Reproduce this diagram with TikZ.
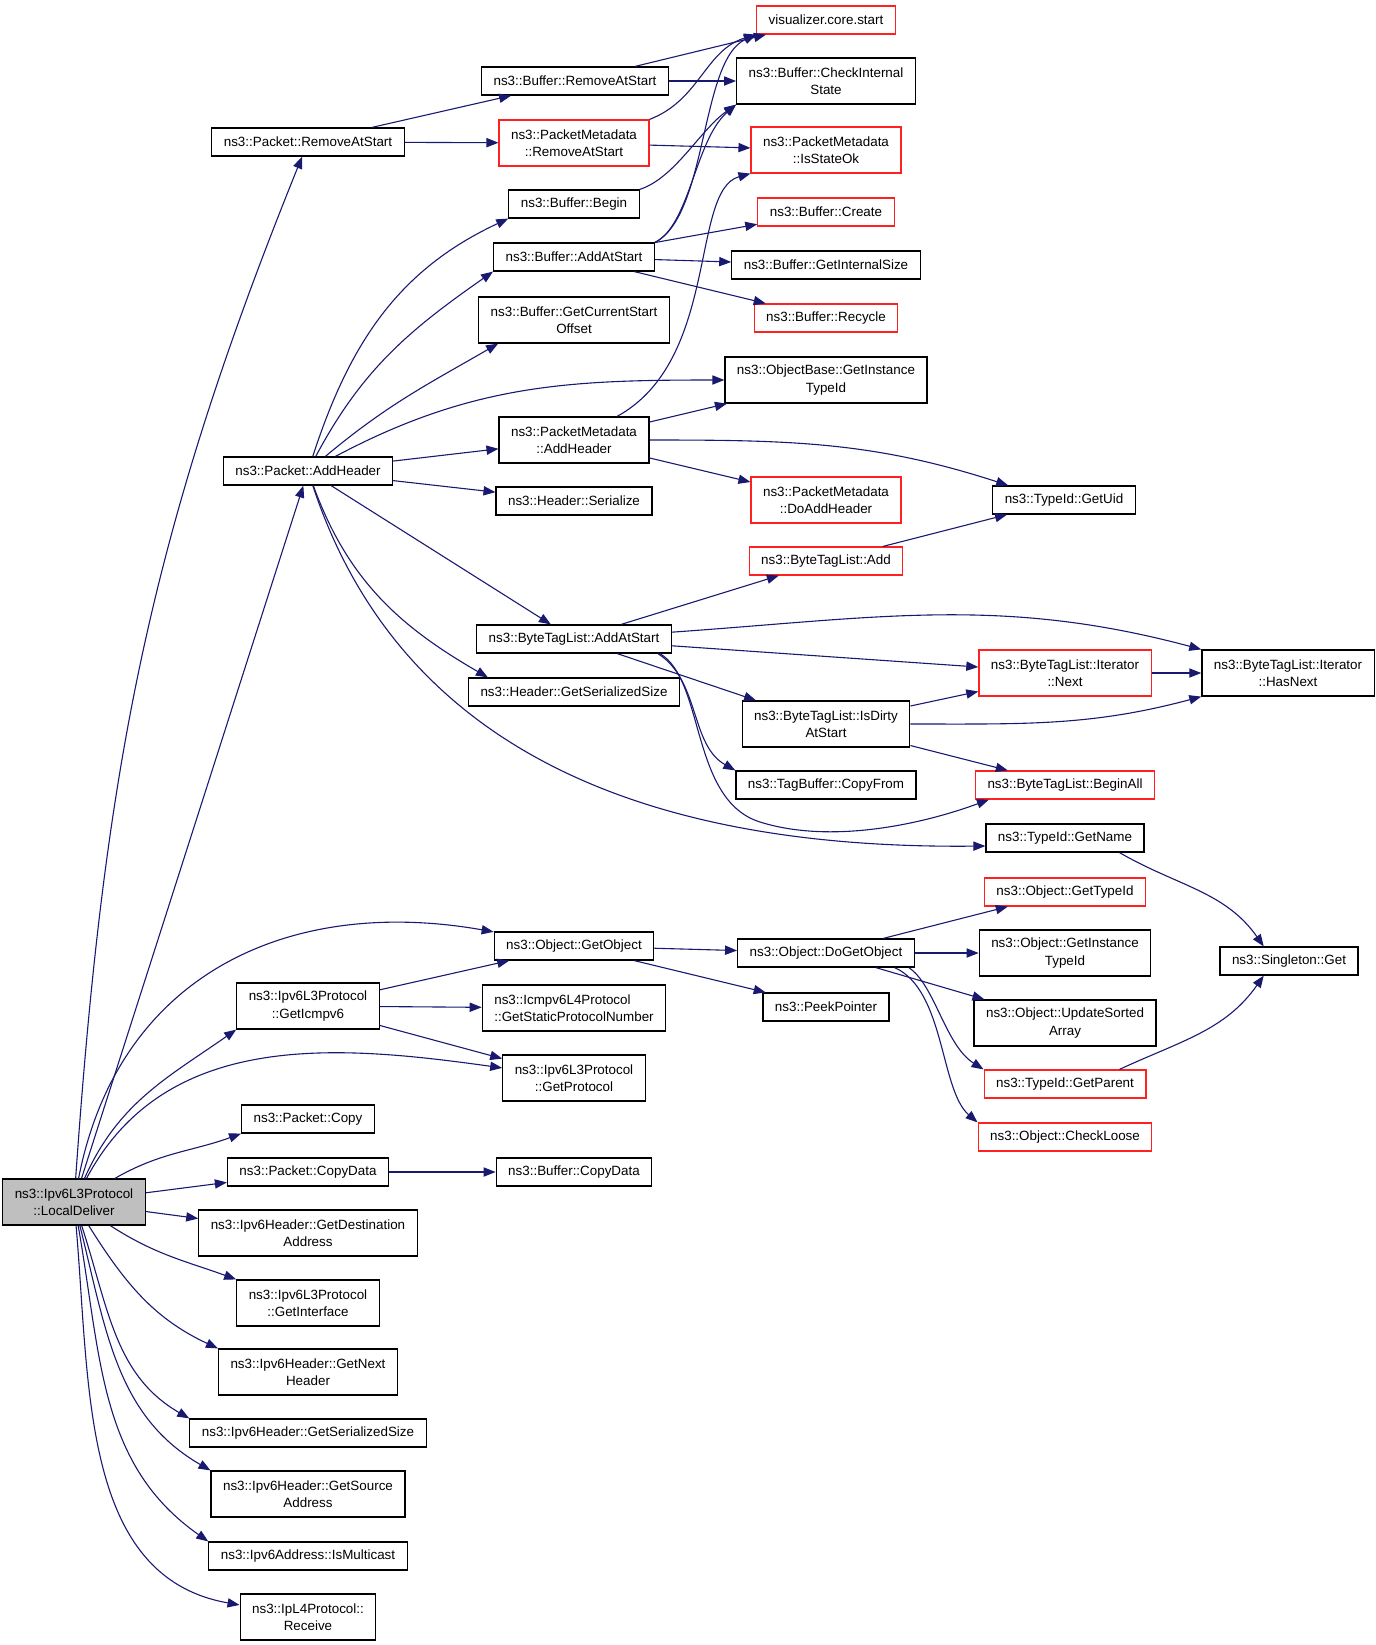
\documentclass[tikz,border=0pt]{standalone}
\usepackage{fontspec}
\setmainfont{Liberation Sans}
\usetikzlibrary{arrows.meta}

\definecolor{edgeblue}{HTML}{191970}
\definecolor{nodered}{HTML}{FF2020}
\definecolor{rootgray}{HTML}{BFBFBF}

\tikzset{
  fn/.style={draw=black, line width=0.6pt, fill=white, inner xsep=6pt, inner ysep=1pt,
    minimum height=14pt, align=center, font=\fontsize{6.7}{8.6}\selectfont},
  two/.style={minimum height=23pt},
  fnred/.style={fn, draw=nodered},
  fnroot/.style={fn, two, fill=rootgray},
  call/.style={edgeblue, line width=0.55pt, -{Triangle[length=6pt,width=4.6pt]}}
}

\begin{document}
\begin{tikzpicture}[x=0.5pt,y=0.5pt]
  \useasboundingbox (0,0) rectangle (1376,-1645);

  % caller
  \node[fnroot] (ld) at (74,-1202) {ns3::Ipv6L3Protocol\\::LocalDeliver};

  % first level
  \node[fn] (prm) at (308,-142) {ns3::Packet::RemoveAtStart};
  \node[fn] (pah) at (308,-471) {ns3::Packet::AddHeader};
  \node[fn,two] (gic) at (308,-1006) {ns3::Ipv6L3Protocol\\::GetIcmpv6};
  \node[fn] (pcp) at (308,-1119) {ns3::Packet::Copy};
  \node[fn] (pcd) at (308,-1172) {ns3::Packet::CopyData};
  \node[fn,two] (gda) at (308,-1233) {ns3::Ipv6Header::GetDestination\\Address};
  \node[fn,two] (gif) at (308,-1303) {ns3::Ipv6L3Protocol\\::GetInterface};
  \node[fn,two] (gnh) at (308,-1372) {ns3::Ipv6Header::GetNext\\Header};
  \node[fn] (gss) at (308,-1433) {ns3::Ipv6Header::GetSerializedSize};
  \node[fn,two] (gsa) at (308,-1494) {ns3::Ipv6Header::GetSource\\Address};
  \node[fn] (ism) at (308,-1556) {ns3::Ipv6Address::IsMulticast};
  \node[fn,two] (rcv) at (308,-1617) {ns3::IpL4Protocol::\\Receive};

  % second level
  \node[fn] (brm) at (575,-81) {ns3::Buffer::RemoveAtStart};
  \node[fnred,two] (pmrm) at (574,-143) {ns3::PacketMetadata\\::RemoveAtStart};
  \node[fn] (bbg) at (574,-204) {ns3::Buffer::Begin};
  \node[fn] (baas) at (574,-257) {ns3::Buffer::AddAtStart};
  \node[fn,two] (bcso) at (574,-320) {ns3::Buffer::GetCurrentStart\\Offset};
  \node[fn,two] (pmah) at (574,-440) {ns3::PacketMetadata\\::AddHeader};
  \node[fn] (hser) at (574,-501) {ns3::Header::Serialize};
  \node[fn] (btaas) at (574,-639) {ns3::ByteTagList::AddAtStart};
  \node[fn] (hgss) at (574,-692) {ns3::Header::GetSerializedSize};
  \node[fn] (ogo) at (574,-946) {ns3::Object::GetObject};
  \node[fn,two,align=left] (gspn) at (574,-1008) {ns3::Icmpv6L4Protocol\\::GetStaticProtocolNumber};
  \node[fn,two] (gpr) at (574,-1078) {ns3::Ipv6L3Protocol\\::GetProtocol};
  \node[fn] (bcd) at (574,-1172) {ns3::Buffer::CopyData};

  % third level
  \node[fnred] (vcs) at (826,-20) {visualizer.core.start};
  \node[fn,two] (bcis) at (826,-81) {ns3::Buffer::CheckInternal\\State};
  \node[fnred,two] (iso) at (826,-150) {ns3::PacketMetadata\\::IsStateOk};
  \node[fnred] (bcr) at (826,-212) {ns3::Buffer::Create};
  \node[fn] (bgis) at (826,-265) {ns3::Buffer::GetInternalSize};
  \node[fnred] (brc) at (826,-318) {ns3::Buffer::Recycle};
  \node[fn,two] (gitid) at (826,-380) {ns3::ObjectBase::GetInstance\\TypeId};
  \node[fnred,two] (dah) at (826,-500) {ns3::PacketMetadata\\::DoAddHeader};
  \node[fnred] (btadd) at (826,-561) {ns3::ByteTagList::Add};
  \node[fn,two] (idas) at (826,-724) {ns3::ByteTagList::IsDirty\\AtStart};
  \node[fn] (tcf) at (826,-785) {ns3::TagBuffer::CopyFrom};
  \node[fn] (dgo) at (826,-953) {ns3::Object::DoGetObject};
  \node[fn] (ppt) at (826,-1007) {ns3::PeekPointer};

  % fourth level
  \node[fn] (guid) at (1064,-500) {ns3::TypeId::GetUid};
  \node[fnred,two] (inext) at (1065,-673) {ns3::ByteTagList::Iterator\\::Next};
  \node[fnred] (ball) at (1065,-785) {ns3::ByteTagList::BeginAll};
  \node[fn] (gname) at (1065,-838) {ns3::TypeId::GetName};
  \node[fnred] (ogtid) at (1065,-892) {ns3::Object::GetTypeId};
  \node[fn,two] (ogitid) at (1065,-953) {ns3::Object::GetInstance\\TypeId};
  \node[fn,two] (usa) at (1065,-1023) {ns3::Object::UpdateSorted\\Array};
  \node[fnred] (gpar) at (1065,-1084) {ns3::TypeId::GetParent};
  \node[fnred] (chk) at (1065,-1137) {ns3::Object::CheckLoose};

  % fifth level
  \node[fn,two] (hnext) at (1288,-673) {ns3::ByteTagList::Iterator\\::HasNext};
  \node[fn] (sget) at (1289,-961) {ns3::Singleton::Get};

  % calls of LocalDeliver
  \path[call]
  (ld) edge[out=86,in=-112] (prm)
  (ld) edge (pah)
  (ld) edge[out=79,in=170,looseness=1.1] (ogo)
  (ld) edge[out=66,in=-145] (gic.south west)
  (ld) edge[out=62,in=172] (gpr)
  (ld) edge[out=30,in=-160] (pcp.south west)
  (ld) edge (pcd)
  (ld) edge (gda)
  (ld) edge[out=-33,in=160] (gif.north west)
  (ld) edge[out=-58,in=155] (gnh.north west)
  (ld) edge[out=-72,in=150] (gss.north west)
  (ld) edge[out=-76,in=150] (gsa.north west)
  (ld) edge[out=-80,in=145] (ism.north west)
  (ld) edge[out=-85,in=170] (rcv);

  % Packet::RemoveAtStart and buffer calls
  \path[call]
  (prm) edge (brm)
  (prm) edge (pmrm)
  (brm) edge (vcs)
  (brm) edge (bcis)
  (pmrm) edge (iso)
  (baas) edge (bcr)
  (baas) edge (bgis)
  (baas) edge (brc);
  \draw[call] (pmrm.north east) .. controls (700,-100) and (705,-50) .. (vcs.south west);
  \draw[call] (bbg.north east) .. controls (675,-178) and (700,-130) .. (bcis.south west);
  \draw[call] (baas.north east) .. controls (690,-225) and (695,-140) .. (bcis.south west);
  \draw[call] (baas.north east) .. controls (708,-215) and (700,-60) .. (vcs.south west);

  % Packet::AddHeader
  \path[call]
  (pah) edge[out=72,in=-155] (bbg.south west)
  (pah) edge[out=62,in=-145] (baas.south west)
  (pah) edge[out=40,in=-150] ([xshift=10pt]bcso.south west)
  (pah) edge[out=28,in=180] (gitid.west)
  (pah) edge (pmah)
  (pah) edge (hser)
  (pah) edge (btaas)
  (pah) edge[out=-70,in=150] ([xshift=10pt]hgss.north west);
  \draw[call] (pah) .. controls (390,-720) and (600,-850) .. ([yshift=-4pt]gname.west);

  % PacketMetadata::AddHeader
  \path[call]
  (pmah) edge (gitid)
  (pmah) edge (dah)
  (pmah) edge[out=0,in=162] ([xshift=8pt]guid.north west);
  \draw[call] (pmah) .. controls (720,-360) and (690,-190) .. (iso.south west);

  % ByteTagList::AddAtStart
  \path[call]
  (btaas) edge (btadd)
  (btaas) edge[out=4,in=165] (hnext.north west)
  (btaas) edge (inext)
  (btaas) edge (idas)
  (btadd) edge (guid)
  (idas) edge (inext)
  (idas) edge[out=0,in=-165] (hnext.south west)
  (idas) edge (ball)
  (inext) edge (hnext);
  \draw[call] ([xshift=-7pt]btaas.south east) .. controls (700,-680) and (690,-745) .. (tcf.north west);
  \draw[call] ([xshift=-6pt]btaas.south east) .. controls (705,-680) and (690,-800) .. (760,-822)
    .. controls (830,-844) and (920,-825) .. ([xshift=7pt]ball.south west);

  % Object::GetObject
  \path[call]
  (gic) edge (ogo)
  (gic) edge (gspn)
  (gic) edge (gpr)
  (ogo) edge (dgo)
  (ogo) edge (ppt)
  (dgo) edge (ogtid)
  (dgo) edge (ogitid)
  (dgo) edge (usa)
  (gname.-15) edge[out=-30,in=125] (sget.150)
  (gpar.15) edge[out=25,in=-125] (sget.-150)
  (pcd) edge (bcd);
  \draw[call] (dgo.-10) .. controls (935,-985) and (945,-1045) .. (gpar.north west);
  \draw[call] (dgo.-12) .. controls (945,-990) and (940,-1090) .. (chk.north west);
\end{tikzpicture}
\end{document}
